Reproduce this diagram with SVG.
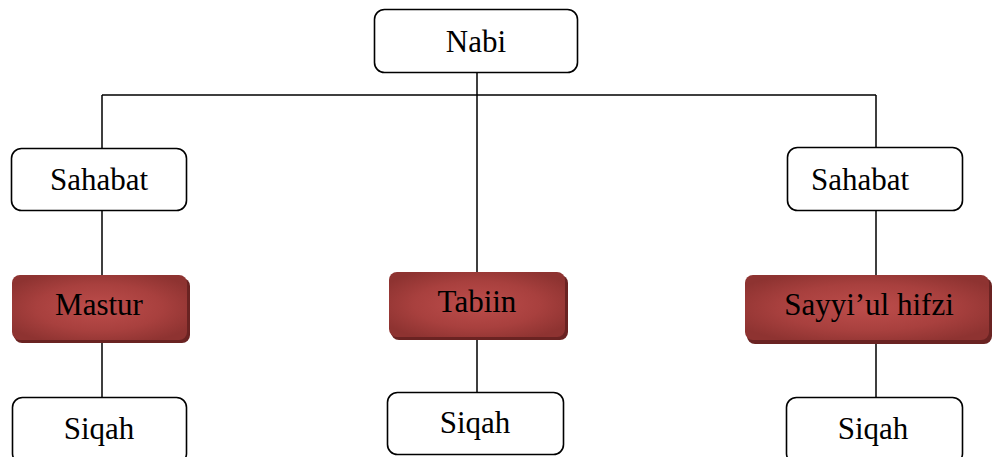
<svg xmlns="http://www.w3.org/2000/svg" width="992" height="457" viewBox="0 0 992 457">
<defs>
<radialGradient id="red" cx="50%" cy="50%" r="60%">
<stop offset="0" stop-color="#bd4d4b"/>
<stop offset="0.6" stop-color="#a8403e"/>
<stop offset="1" stop-color="#8e3331"/>
</radialGradient>
<style>
.w{fill:#fff;stroke:#000;stroke-width:1.6}
.r{fill:url(#red)}
.sh{fill:#6a2322}
.t{font-family:"Liberation Serif","Times New Roman",serif;font-size:31px;fill:#000;text-anchor:middle}
.c{stroke:#000;stroke-width:1.5;fill:none}
</style>
</defs>
<rect width="992" height="457" fill="#fff"/>
<g id="connectors">
<path class="c" d="M477 72V272M102 95H876M102 95V148M876 95V147M102 211V275M102 342V397M477 339V392M876 211V275M876 343V397"/>
</g>
<g id="nabi"><rect class="w" x="374.5" y="9.5" width="203" height="63" rx="10"/><text class="t" x="476" y="52">Nabi</text></g>
<g id="sahabat-left"><rect class="w" x="11.5" y="148.5" width="175" height="62" rx="10"/><text class="t" x="99" y="190">Sahabat</text></g>
<g id="sahabat-right"><rect class="w" x="787.5" y="147.5" width="175" height="63" rx="10"/><text class="t" x="860" y="190">Sahabat</text></g>
<g id="mastur"><rect class="sh" x="14" y="278" width="176" height="65" rx="8"/><rect class="r" x="12" y="275" width="175" height="65" rx="8"/><text class="t" x="99" y="315">Mastur</text></g>
<g id="tabiin"><rect class="sh" x="391" y="275" width="177" height="65" rx="8"/><rect class="r" x="389" y="272" width="176" height="65" rx="8"/><text class="t" x="477" y="312">Tabiin</text></g>
<g id="sayyiul-hifzi"><rect class="sh" x="747" y="278" width="245" height="66" rx="8"/><rect class="r" x="745" y="275" width="244" height="65" rx="8"/><text class="t" x="869" y="315">Sayyi’ul hifzi</text></g>
<g id="siqah-left"><rect class="w" x="12.5" y="397.5" width="174" height="66" rx="10"/><text class="t" x="99" y="439">Siqah</text></g>
<g id="siqah-mid"><rect class="w" x="387.5" y="392.5" width="176" height="62" rx="10"/><text class="t" x="475" y="433">Siqah</text></g>
<g id="siqah-right"><rect class="w" x="786.5" y="397.5" width="176" height="66" rx="10"/><text class="t" x="873" y="439">Siqah</text></g>
</svg>
